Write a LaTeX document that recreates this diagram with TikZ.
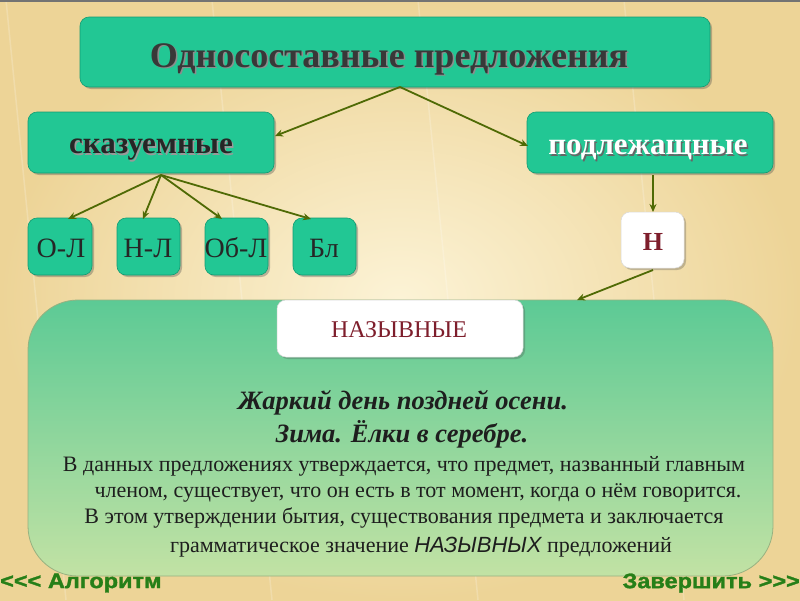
\documentclass[tikz,border=0pt]{standalone}
\usepackage{fontspec}
\setmainfont{Liberation Serif}
\newfontfamily\footf[FakeStretch=1.12,FakeBold=1.5]{Liberation Sans}
\newfontfamily\sansf{Liberation Sans}
\usetikzlibrary{shadows,arrows.meta}
\definecolor{bgA}{HTML}{FCF3D6}
\definecolor{bgB}{HTML}{EDD497}
\definecolor{teal}{HTML}{22C794}
\definecolor{tealD}{HTML}{139B72}
\definecolor{arr}{HTML}{4F6A05}
\definecolor{bigT}{HTML}{5CCA95}
\definecolor{bigB}{HTML}{C2E2A4}
\definecolor{dred}{HTML}{7E1E2C}
\definecolor{ftg}{HTML}{267F18}
\definecolor{txt}{HTML}{1E1E1E}
\tikzset{
  tbox/.style={draw=tealD,line width=0.6pt,fill=teal,rounded corners=9pt,
    drop shadow={shadow xshift=2pt,shadow yshift=-2pt,opacity=0.35,fill=black!70}},
  wbox/.style={draw=white!85!black,line width=0.5pt,fill=white,rounded corners=9pt,
    drop shadow={shadow xshift=2pt,shadow yshift=-2pt,opacity=0.3,fill=black!70}},
  con/.style={draw=arr,line width=1.8pt,-{Stealth[length=8pt,width=7pt]}},
  big/.style={font=\fontsize{36}{36}\selectfont\bfseries},
  mid/.style={font=\fontsize{31}{31}\selectfont\bfseries},
  sml/.style={font=\fontsize{28}{28}\selectfont, text=black!85},
  ex/.style={font=\fontsize{26.5}{26.5}\selectfont\bfseries\itshape, text=txt},
  body/.style={font=\fontsize{22}{22}\selectfont, text=txt},
  foot/.style={font=\footf\fontsize{21}{21}\selectfont\bfseries, text=ftg, inner sep=0pt},
}
\begin{document}
\begin{tikzpicture}[x=1pt,y=-1pt]
\useasboundingbox (0,0) rectangle (800,600);
% background
\shade[inner color=bgA,outer color=bgB] (0,0) rectangle (800,600);
\foreach \i in {-200,6,...,800} {\draw[white,opacity=0.2,line width=1.5pt] (\i,0) -- (\i+60,600);}
\fill[black!55] (0,0) rectangle (800,2);
% title
\path[tbox] (80,17) rectangle (710,87);
\node[big,text=black!45] at (390.5,60.5) {Односоставные предложения};
\node[big,text=black!78] (title) at (389,59) {Односоставные предложения};
\coordinate (tb) at (400,87);
% level 2
\path[tbox] (28,112) rectangle (274,173);
\node[mid,text=black!40] at (152.5,151.5) {сказуемные};
\node[mid,text=black!85] (sk) at (151,150) {сказуемные};
\path[tbox] (527,112) rectangle (773,173);
\node[mid,text=black!60] at (649.5,151.5) {подлежащные};
\node[mid,text=white] (pd) at (648,150) {подлежащные};
\coordinate (skR) at (275,136);
\coordinate (pdL) at (528,146);
\coordinate (skB) at (161,175);
\coordinate (pdB) at (653,175);
% small boxes
\path[tbox] (28,218) rectangle (92,275);
\node[sml] (ol) at (61,248) {О-Л};
\path[tbox] (117,218) rectangle (180,275);
\node[sml] (nl) at (148,248) {Н-Л};
\path[tbox] (205,218) rectangle (268,275);
\node[sml] (obl) at (236,248) {Об-Л};
\path[tbox] (293,218) rectangle (356,275);
\node[sml] (bl) at (324,248) {Бл};
\coordinate (olT) at (68,219);
\coordinate (nlT) at (143,219);
\coordinate (oblT) at (222,219);
\coordinate (blT) at (311,219);
% N box
\path[wbox] (621,212) rectangle (684,268);
\node[font=\fontsize{26}{26}\selectfont\bfseries,text=dred] (n) at (653,242) {Н};
\coordinate (nT) at (653,212);
\coordinate (nB) at (653,270);
% big box
\shade[top color=bigT,bottom color=bigB,rounded corners=50pt,draw=bigT!70!black!50!bgB,line width=0.8pt]
  (28,300) rectangle (773,576);
\coordinate (bigT) at (577,300);
\path[wbox] (277,300) rectangle (523,357);
\node[font=\fontsize{24}{24}\selectfont,text=dred] (naz) at (399,330) {НАЗЫВНЫЕ};
% texts
\node[ex] (e1) at (403,403) {Жаркий день поздней осени.};
\node[ex] (e2) at (402,434) {Зима. Ёлки в серебре.};
\node[body] (t1) at (404,466) {В данных предложениях утверждается, что предмет, названный главным};
\node[body] (t2) at (418,493) {членом, существует, что он есть в тот момент, когда о нём говорится.};
\node[body] (t3) at (404,518) {В этом утверждении бытия, существования предмета и заключается};
\node[body] (t4) at (421,547) {грамматическое значение {\sansf\itshape НАЗЫВНЫХ} предложений};
% footer
\node[foot,anchor=west] (alg) at (0,583) {<<< Алгоритм};
\node[foot,anchor=east] (fin) at (800,583) {Завершить >>>};
% connectors
\draw[con] (tb) -- (skR);
\draw[con] (tb) -- (pdL);
\draw[con] (skB) -- (olT);
\draw[con] (skB) -- (nlT);
\draw[con] (skB) -- (oblT);
\draw[con] (skB) -- (blT);
\draw[con] (pdB) -- (nT);
\draw[con] (nB) -- (bigT);
\end{tikzpicture}
\end{document}
